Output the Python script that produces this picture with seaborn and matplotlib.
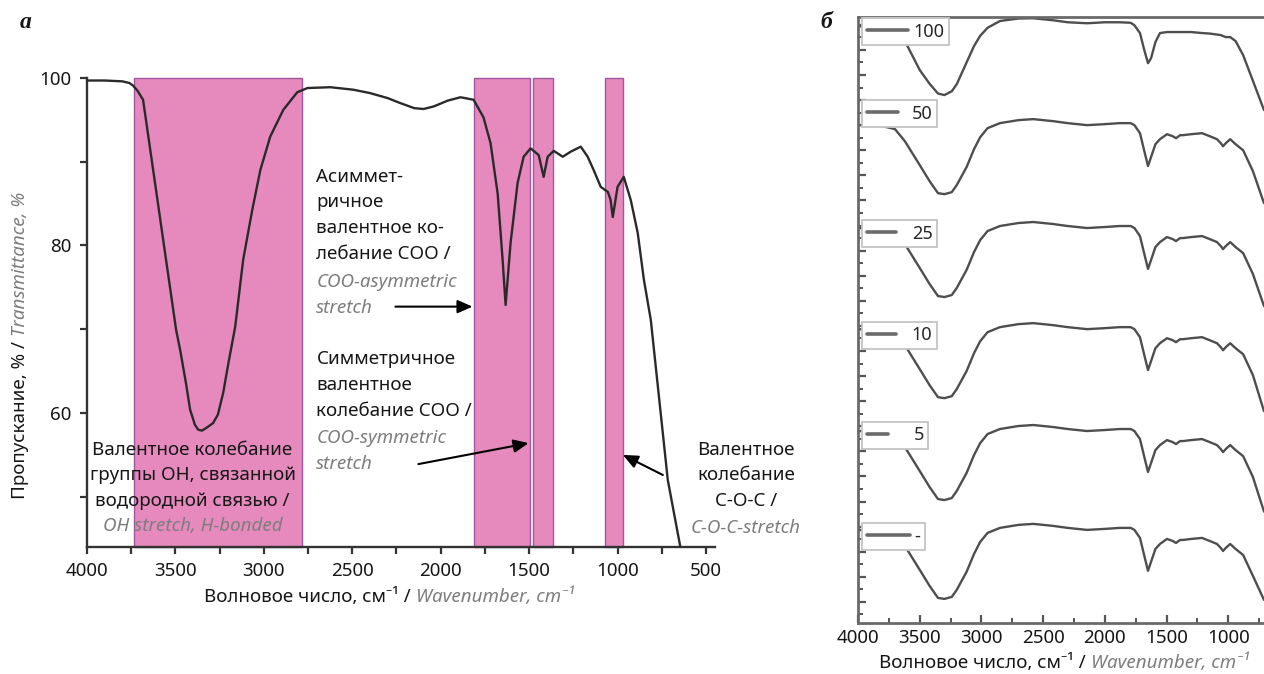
import matplotlib
matplotlib.use("Agg")
import matplotlib.pyplot as plt
import seaborn as sns
import pandas as pd
from matplotlib.ticker import MultipleLocator
from matplotlib.lines import Line2D
from matplotlib.legend import Legend

sns.set_theme(style="white")
plt.rcParams['font.family'] = ['Noto Sans', 'DejaVu Sans']

# ---------------- panel а : IR spectrum with assigned bands ----------------
WN_A = [4000, 3900, 3800, 3760, 3740, 3715, 3683, 3600, 3496, 3473,
        3440, 3417, 3390, 3371, 3349, 3320, 3287, 3260, 3230, 3200,
        3162, 3117, 3066, 3020, 2964, 2890, 2811, 2754, 2624, 2494,
        2400, 2300, 2228, 2150, 2097, 2040, 1960, 1888, 1814, 1758,
        1718, 1678, 1650, 1633, 1605, 1565, 1531, 1492, 1446, 1418,
        1395, 1361, 1310, 1265, 1208, 1169, 1135, 1095, 1055, 1040,
        1027, 1000, 965, 925, 886, 851, 812, 716, 645]
T_A = [99.7, 99.7, 99.6, 99.4, 99.1, 98.5, 97.4, 85.2, 69.9, 67.5,
       63.5, 60.4, 58.6, 58.0, 57.9, 58.3, 58.8, 59.8, 62.4, 66.0,
       70.3, 78.3, 84.2, 89.0, 93.0, 96.2, 98.3, 98.8, 98.9, 98.6,
       98.2, 97.6, 97.0, 96.4, 96.3, 96.6, 97.3, 97.7, 97.4, 95.3,
       92.2, 86.2, 78.3, 72.9, 80.3, 87.5, 90.6, 91.6, 90.8, 88.2,
       90.6, 91.3, 90.6, 91.2, 91.8, 90.6, 89.0, 87.0, 86.4, 85.5,
       83.4, 87.0, 88.2, 85.4, 81.5, 75.9, 71.1, 52.0, 44.0]

BAND_HI = [3734, 1814, 1480, 1072]
BAND_LO = [2783, 1497, 1367, 970]

T1_BLACK = "Асиммет-\nричное\nвалентное ко-\nлебание COO /"
T1_GREY = "COO-asymmetric\nstretch"
T2_BLACK = "Симметричное\nвалентное\nколебание COO /"
T2_GREY = "COO-symmetric\nstretch"
T3_BLACK = "Валентное колебание\nгруппы OH, связанной\nводородной связью /"
T3_GREY = "OH stretch, H-bonded"
T4_BLACK = "Валентное\nколебание\nC-O-C /"
T4_GREY = "C-O-C-stretch"

XLAB_RU = "Волновое число, см\u207b\u00b9 / "
XLAB_EN = "Wavenumber, cm\u207b\u00b9"
YLAB_RU = "Пропускание, % / "
YLAB_EN = "Transmittance, %"

# ---------------- panel б : stacked spectra ----------------
WN_B = [4000, 3800, 3700, 3620, 3500, 3420, 3352, 3300, 3240, 3200,
        3120, 3060, 3010, 2950, 2850, 2700, 2580, 2420, 2300, 2144,
        2000, 1880, 1790, 1760, 1715, 1680, 1650, 1625, 1590, 1553,
        1496, 1450, 1423, 1390, 1366, 1300, 1212, 1150, 1091, 1060,
        1042, 1020, 984, 940, 879, 800, 710]
S_100 = [229.4, 229.0, 227.9, 223.5, 212.0, 206.5, 202.6, 202.0, 203.5, 206.3,
         215.0, 221.5, 225.6, 228.8, 231.5, 232.5, 232.6, 231.8, 231.0, 230.6,
         231.0, 231.0, 230.8, 229.8, 226.7, 219.9, 214.7, 216.7, 223.1, 226.7,
         227.1, 227.1, 227.1, 227.1, 227.1, 227.1, 226.7, 226.5, 226.1, 225.9,
         225.5, 225.1, 225.1, 223.5, 217.9, 207.7, 196.0]
S_50 = [190.0, 189.6, 188.4, 183.6, 174.1, 167.7, 162.9, 162.5, 163.3, 166.1,
        173.3, 180.4, 185.2, 188.8, 190.8, 192.0, 192.4, 191.6, 190.8, 190.0,
        190.4, 190.8, 190.8, 190.0, 186.8, 179.7, 173.7, 177.3, 182.4, 184.4,
        186.4, 185.6, 184.8, 186.0, 186.0, 186.4, 186.8, 185.6, 184.4, 182.8,
        181.6, 182.8, 184.4, 182.4, 180.0, 171.7, 158.9]
S_25 = [149.0, 148.6, 147.4, 142.6, 133.1, 126.7, 121.9, 121.5, 122.3, 125.1,
        132.3, 139.4, 144.2, 147.8, 149.8, 151.0, 151.4, 150.6, 149.8, 149.0,
        149.4, 149.8, 149.8, 149.0, 145.8, 138.7, 132.7, 136.3, 141.4, 143.4,
        145.4, 144.6, 143.8, 145.0, 145.0, 145.4, 145.8, 144.6, 143.4, 141.8,
        140.6, 141.8, 143.4, 141.4, 139.0, 130.7, 117.9]
S_10 = [108.7, 108.3, 107.1, 102.3, 92.8, 86.4, 81.6, 81.2, 82.0, 84.8,
        92.0, 99.1, 103.9, 107.5, 109.5, 110.7, 111.1, 110.3, 109.5, 108.7,
        109.1, 109.5, 109.5, 108.7, 105.5, 98.4, 92.4, 96.0, 101.1, 103.1,
        105.1, 104.3, 103.5, 104.7, 104.7, 105.1, 105.5, 104.3, 103.1, 101.5,
        100.3, 101.5, 103.1, 101.1, 98.7, 90.4, 76.0]
S_5 = [68.1, 67.7, 66.5, 61.7, 52.2, 45.8, 41.0, 40.6, 41.4, 44.2,
       51.4, 58.5, 63.3, 66.9, 68.9, 70.1, 70.5, 69.7, 68.9, 68.1,
       68.5, 68.9, 68.9, 68.1, 64.9, 57.8, 51.8, 55.4, 60.5, 62.5,
       64.5, 63.7, 62.9, 64.1, 64.1, 64.5, 64.9, 63.7, 62.5, 60.9,
       59.7, 60.9, 62.5, 60.5, 58.1, 49.8, 36.0]
S_0 = [28.7, 28.3, 27.1, 22.3, 12.8, 6.4, 1.6, 1.2, 2.0, 4.8,
       12.0, 19.1, 23.9, 27.5, 29.5, 30.7, 31.1, 30.3, 29.5, 28.7,
       29.1, 29.5, 29.5, 28.7, 25.5, 18.4, 12.4, 16.0, 21.1, 23.1,
       25.1, 24.3, 23.5, 24.7, 24.7, 25.1, 25.5, 24.3, 23.1, 21.5,
       20.3, 21.5, 23.1, 21.1, 18.7, 10.4, 0.8]
SERIES_B = [("100", S_100), ("50", S_50), ("25", S_25),
            ("10", S_10), ("5", S_5), ("-", S_0)]

BLACK = "#161616"
GREY = "#7d7d7d"
PINK = "#e68abd"
PURPLE = "#a0559f"
FS = 13.5

fig = plt.figure(figsize=(12.64, 6.74), dpi=100)
axA = fig.add_axes([0.06883, 0.18843, 0.49684, 0.69585])
axB = fig.add_axes([0.67880, 0.07567, 0.32120, 0.89911])

# ---- panel а ----
for lo, hi in zip(BAND_LO, BAND_HI):
    p = axA.axvspan(lo, hi, facecolor=PINK, edgecolor=PURPLE, lw=1.0, zorder=1)
    p.set_clip_on(False)

dfA = pd.DataFrame({"wn": WN_A, "t": T_A})
sns.lineplot(data=dfA, x="wn", y="t", sort=False, estimator=None, ax=axA,
             color="#2a2a2a", lw=1.7, zorder=3)
axA.set_xlim(4000, 449)
axA.set_ylim(44, 100)
axA.set_xlabel("")
axA.set_ylabel("")
axA.xaxis.set_major_locator(MultipleLocator(500))
axA.xaxis.set_minor_locator(MultipleLocator(250))
axA.yaxis.set_major_locator(MultipleLocator(20))
axA.yaxis.set_minor_locator(MultipleLocator(10))
for s in ("top", "right"):
    axA.spines[s].set_visible(False)
for s in ("left", "bottom"):
    axA.spines[s].set_color("#333333")
    axA.spines[s].set_linewidth(1.7)
axA.tick_params(which="both", direction="out", length=5, width=1.6,
                color="#333333", labelsize=FS, labelcolor=BLACK, pad=6,
                bottom=True, left=True)

txt_kw = dict(fontsize=FS, linespacing=1.55, zorder=5)
axA.text(2703, 89.3, T1_BLACK, color=BLACK, ha="left", va="top", **txt_kw)
axA.text(2703, 76.7, T1_GREY, color=GREY, ha="left", va="top",
         style="italic", **txt_kw)
axA.text(2703, 67.5, T2_BLACK, color=BLACK, ha="left", va="top", **txt_kw)
axA.text(2703, 58.1, T2_GREY, color=GREY, ha="left", va="top",
         style="italic", **txt_kw)
axA.text(3403, 56.7, T3_BLACK, color=BLACK, ha="center", va="top",
         multialignment="center", **txt_kw)
axA.text(3403, 47.6, T3_GREY, color=GREY, ha="center", va="top",
         style="italic", **txt_kw)
axA.text(274, 56.7, T4_BLACK, color=BLACK, ha="center", va="top",
         multialignment="center", **txt_kw)
axA.text(274, 47.4, T4_GREY, color=GREY, ha="center", va="top",
         style="italic", **txt_kw)

arrow = dict(arrowstyle="-|>,head_length=0.5,head_width=0.22", color="black",
             lw=1.5, mutation_scale=18, shrinkA=0, shrinkB=0)
axA.annotate("", xy=(1820, 72.7), xytext=(2256, 72.7), arrowprops=arrow)
axA.annotate("", xy=(1503, 56.4), xytext=(2126, 53.9), arrowprops=arrow)
axA.annotate("", xy=(970, 55.0), xytext=(744, 52.6), arrowprops=arrow)

# axis labels panel а
fig.text(416 / 1264, 1 - 597 / 674, XLAB_RU, color=BLACK, fontsize=FS,
         ha="right", va="center")
fig.text(416 / 1264, 1 - 597 / 674, XLAB_EN, color=GREY, fontsize=FS,
         style="italic", ha="left", va="center")
fig.text(20 / 1264, 1 - 336 / 674, YLAB_RU, color=BLACK, fontsize=FS,
         rotation=90, ha="center", va="top")
fig.text(20 / 1264, 1 - 336 / 674, YLAB_EN, color=GREY, fontsize=FS,
         style="italic", rotation=90, ha="center", va="bottom")

# ---- panel б ----
for label, vals in SERIES_B:
    sns.lineplot(x=WN_B, y=vals, sort=False, estimator=None, ax=axB,
                 color="#4e4e4e", lw=1.7, legend=False, zorder=2)
axB.set_xlim(4000, 710)
axB.set_ylim(-8.4, 233.1)
axB.xaxis.set_major_locator(MultipleLocator(500))
axB.xaxis.set_minor_locator(MultipleLocator(250))
axB.yaxis.set_major_locator(MultipleLocator(10))
axB.yaxis.set_minor_locator(MultipleLocator(5))
axB.set_yticklabels([])
axB.spines["right"].set_visible(False)
for s in ("left", "bottom", "top"):
    axB.spines[s].set_color("#6a6a6a")
    axB.spines[s].set_linewidth(2.0)
axB.tick_params(which="major", direction="in", length=6, width=1.6,
                color="#555555", labelsize=FS, labelcolor=BLACK, pad=4,
                bottom=True, left=True)
axB.tick_params(which="minor", direction="in", length=3.5, width=1.4,
                color="#555555", bottom=True, left=True)
axB.tick_params(axis="y", which="both", labelleft=False)

LEG_TOP = [0.998, 0.863, 0.665, 0.497, 0.332, 0.165]
LEG_HL = [2.3, 1.75, 1.65, 1.65, 1.2, 2.4]
LEG_PAD = [0.3, 0.75, 0.85, 0.85, 1.4, 0.25]
for (label, _), top, hl, tp in zip(SERIES_B, LEG_TOP, LEG_HL, LEG_PAD):
    h = Line2D([], [], color="#6a6a6a", lw=2.6)
    leg = Legend(axB, [h], [label], loc="upper left",
                 bbox_to_anchor=(0.0099, top), bbox_transform=axB.transAxes,
                 borderaxespad=0, frameon=True, fancybox=False, framealpha=1,
                 edgecolor="#c4c4c4", facecolor="white", fontsize=13,
                 handlelength=hl, handletextpad=tp, borderpad=0.25)
    leg.get_frame().set_linewidth(1.3)
    leg.set_zorder(6)
    axB.add_artist(leg)

fig.text(1091 / 1264, 1 - 663 / 674, XLAB_RU, color=BLACK, fontsize=FS,
         ha="right", va="center")
fig.text(1091 / 1264, 1 - 663 / 674, XLAB_EN, color=GREY, fontsize=FS,
         style="italic", ha="left", va="center")

# panel letters
fig.text(26 / 1264, 1 - 22 / 674, "а", fontfamily="Liberation Serif",
         fontweight="bold", fontstyle="italic", fontsize=17, ha="center",
         va="center", color=BLACK)
fig.text(826 / 1264, 1 - 22 / 674, "б", fontfamily="Liberation Serif",
         fontweight="bold", fontstyle="italic", fontsize=17, ha="center",
         va="center", color=BLACK)

fig.savefig("out.png", dpi=100, facecolor="white")
